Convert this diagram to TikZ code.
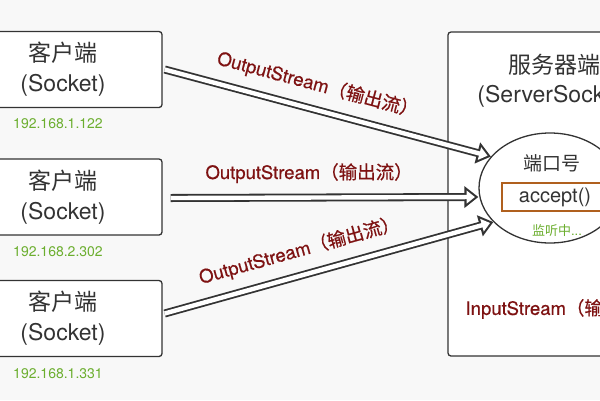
\documentclass[tikz,border=0pt]{standalone}
\usepackage{fontspec}
\setmainfont{TeX Gyre Heros}
\newfontfamily\cjk{Noto Sans CJK SC}
\newfontfamily\cjkmed[FakeBold=0.6]{Noto Sans CJK SC}
\newfontfamily\latmed[FakeBold=0.6]{TeX Gyre Heros}
\usepackage{xcolor}
\usetikzlibrary{arrows.meta,shapes.geometric}

\definecolor{bggray}{HTML}{F8F8F8}
\definecolor{textgray}{HTML}{333333}
\definecolor{ipgreen}{HTML}{6BAE2E}
\definecolor{streamred}{HTML}{7E1212}
\definecolor{acceptbrown}{HTML}{B0601E}

\newcommand{\zh}[1]{{\cjk #1}}
\newcommand{\streamtext}[2]{{\latmed #1}{\cjkmed （#2）}}

\begin{document}
\begin{tikzpicture}[x=1pt,y=-1pt,
        client/.style={rectangle,draw=textgray,line width=1.3pt,rounded corners=3pt,fill=white,
            minimum width=198pt,minimum height=76pt,align=center,text=textgray,
            font=\fontsize{23}{30}\selectfont},
        iplabel/.style={text=ipgreen,font=\fontsize{14}{14}\selectfont},
        flowout/.style={draw=textgray,line width=8pt,-{Triangle[length=14pt,width=21pt]}},
        flowin/.style={draw=white,line width=4.4pt,shorten >=3.4pt,
            -{Triangle[length=8.4pt,width=12.6pt]}},
        streamlabel/.style={text=streamred,font=\fontsize{18.5}{20}\selectfont}]
    \clip (0,0) rectangle (600,400);
    \fill[bggray] (0,0) rectangle (600,400);

    % clients
    \node[client] (client1) at (63,69.5) {\zh{客户端}\\(Socket)};
    \node[client] (client2) at (63,197) {\zh{客户端}\\(Socket)};
    \node[client] (client3) at (63,318.5) {\zh{客户端}\\(Socket)};
    \node[iplabel] (ip1) at (58,124) {192.168.1.122};
    \node[iplabel] (ip2) at (58,252) {192.168.2.302};
    \node[iplabel] (ip3) at (58,374) {192.168.1.331};

    % server
    \node[rectangle,draw=textgray,line width=1.3pt,rounded corners=3pt,fill=white,
        minimum width=212pt,minimum height=324pt] (server) at (554,194) {};
    \node[align=center,text=textgray,font=\fontsize{23}{29}\selectfont] (servername) at (554,81)
        {\zh{服务器端}\\(ServerSocket)};
    \node[ellipse,draw=textgray,line width=1.3pt,fill=white,inner sep=0pt,
        minimum width=142pt,minimum height=110pt] (port) at (550,188) {};
    \node[text=textgray,font=\fontsize{19}{19}\selectfont] (portname) at (552,163) {\zh{端口号}};
    \node[rectangle,draw=acceptbrown,line width=1.3pt,fill=white,text=textgray,
        minimum width=106pt,minimum height=28pt,font=\fontsize{20}{20}\selectfont] (accept) at (555,197) {accept()};
    \node[text=ipgreen,font=\fontsize{13}{13}\selectfont] (listen) at (557,231) {\zh{监听中}...};
    \node[streamlabel] (input) at (562,309) {\streamtext{InputStream}{输入流}};

    % streams
    \draw[flowout] ([xshift=2pt]client1.east) -- (port.152);
    \draw[flowin] ([xshift=2pt]client1.east) -- (port.152)
        node[streamlabel,pos=0.45,sloped,above=9pt] {\streamtext{OutputStream}{输出流}};
    \draw[flowout] ([xshift=8pt,yshift=-1pt]client2.east) -- (port.west |- client2.east);
    \draw[flowin] ([xshift=8pt,yshift=-1pt]client2.east) -- (port.west |- client2.east)
        node[streamlabel,pos=0.45,above=9pt] {\streamtext{OutputStream}{输出流}};
    \draw[flowout] ([xshift=2pt,yshift=5pt]client3.east) -- (port.211);
    \draw[flowin] ([xshift=2pt,yshift=5pt]client3.east) -- (port.211)
        node[streamlabel,pos=0.43,sloped,above=9pt] {\streamtext{OutputStream}{输出流}};
\end{tikzpicture}
\end{document}
